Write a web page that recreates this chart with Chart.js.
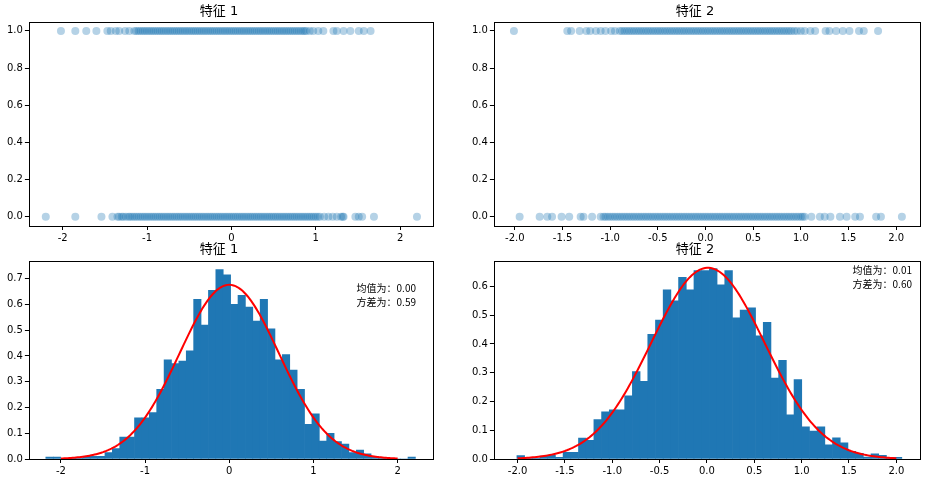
<!DOCTYPE html>
<html><head><meta charset="utf-8">
<script src="https://cdn.jsdelivr.net/npm/chart.js@4/dist/chart.umd.min.js"></script>
<style>
body{margin:0;background:#fff;width:931px;height:484px;position:relative;overflow:hidden}
.c{position:absolute}
</style></head><body>
<div class="c" style="left:0;top:0;width:460px;height:246px"><canvas id="c1"></canvas></div>
<div class="c" style="left:470px;top:0;width:461px;height:246px"><canvas id="c2"></canvas></div>
<div class="c" style="left:0;top:240px;width:460px;height:244px"><canvas id="c3"></canvas></div>
<div class="c" style="left:470px;top:240px;width:461px;height:244px"><canvas id="c4"></canvas></div>
<script>
const titles = ["特征 1", "特征 2"];
// tick values
const xTicks1 = [-2,-1,0,1,2];
const xTicks2 = [-2.0,-1.5,-1.0,-0.5,0.0,0.5,1.0,1.5,2.0];
const yTicksTop = [0.0,0.2,0.4,0.6,0.8,1.0];
const yTicksHist1 = [0.0,0.1,0.2,0.3,0.4,0.5,0.6,0.7];
const yTicksHist2 = [0.0,0.1,0.2,0.3,0.4,0.5,0.6];
// scatter values (feature value) for label 1 and label 0
const f1Label1 = [-2.02,-1.85,-1.72,-1.60,-1.47,-1.43,-1.37,-1.33,-1.26,-1.21,-1.15,-1.125,-1.1,-1.075,-1.05,-1.025,-1.0,-0.975,-0.95,-0.925,-0.9,-0.875,-0.85,-0.825,-0.8,-0.775,-0.75,-0.725,-0.7,-0.675,-0.65,-0.625,-0.6,-0.575,-0.55,-0.525,-0.5,-0.475,-0.45,-0.425,-0.4,-0.375,-0.35,-0.325,-0.3,-0.275,-0.25,-0.225,-0.2,-0.175,-0.15,-0.125,-0.1,-0.075,-0.05,-0.025,0,0.025,0.05,0.075,0.1,0.125,0.15,0.175,0.2,0.225,0.25,0.275,0.3,0.325,0.35,0.375,0.4,0.425,0.45,0.475,0.5,0.525,0.55,0.575,0.6,0.625,0.65,0.675,0.7,0.725,0.75,0.775,0.8,0.825,0.85,0.87,0.89,0.93,0.97,1.03,1.09,1.21,1.25,1.33,1.41,1.51,1.57,1.65];
const f1Label0 = [-2.2,-1.85,-1.54,-1.41,-1.35,-1.33,-1.3,-1.28,-1.25,-1.22,-1.2,-1.175,-1.15,-1.125,-1.1,-1.075,-1.05,-1.025,-1.0,-0.975,-0.95,-0.925,-0.9,-0.875,-0.85,-0.825,-0.8,-0.775,-0.75,-0.725,-0.7,-0.675,-0.65,-0.625,-0.6,-0.575,-0.55,-0.525,-0.5,-0.475,-0.45,-0.425,-0.4,-0.375,-0.35,-0.325,-0.3,-0.275,-0.25,-0.225,-0.2,-0.175,-0.15,-0.125,-0.1,-0.075,-0.05,-0.025,0,0.025,0.05,0.075,0.1,0.125,0.15,0.175,0.2,0.225,0.25,0.275,0.3,0.325,0.35,0.375,0.4,0.425,0.45,0.475,0.5,0.525,0.55,0.575,0.6,0.625,0.65,0.675,0.7,0.725,0.75,0.775,0.8,0.825,0.85,0.875,0.9,0.925,0.95,0.975,1.0,1.025,1.05,1.1,1.15,1.2,1.25,1.3,1.32,1.33,1.47,1.51,1.55,1.69,2.2];
const f2Label1 = [-2.01,-1.45,-1.41,-1.32,-1.25,-1.21,-1.15,-1.10,-1.05,-0.99,-0.95,-0.9,-0.875,-0.85,-0.825,-0.8,-0.775,-0.75,-0.725,-0.7,-0.675,-0.65,-0.625,-0.6,-0.575,-0.55,-0.525,-0.5,-0.475,-0.45,-0.425,-0.4,-0.375,-0.35,-0.325,-0.3,-0.275,-0.25,-0.225,-0.2,-0.175,-0.15,-0.125,-0.1,-0.075,-0.05,-0.025,0,0.025,0.05,0.075,0.1,0.125,0.15,0.175,0.2,0.225,0.25,0.275,0.3,0.325,0.35,0.375,0.4,0.425,0.45,0.475,0.5,0.525,0.55,0.575,0.6,0.625,0.65,0.675,0.7,0.725,0.75,0.775,0.8,0.825,0.85,0.875,0.9,0.93,0.96,1.0,1.04,1.1,1.15,1.26,1.3,1.37,1.44,1.51,1.61,1.66,1.81];
const f2Label0 = [-1.95,-1.74,-1.66,-1.61,-1.51,-1.43,-1.31,-1.28,-1.19,-1.10,-1.07,-1.05,-1.025,-1.0,-0.975,-0.95,-0.925,-0.9,-0.875,-0.85,-0.825,-0.8,-0.775,-0.75,-0.725,-0.7,-0.675,-0.65,-0.625,-0.6,-0.575,-0.55,-0.525,-0.5,-0.475,-0.45,-0.425,-0.4,-0.375,-0.35,-0.325,-0.3,-0.275,-0.25,-0.225,-0.2,-0.175,-0.15,-0.125,-0.1,-0.075,-0.05,-0.025,0,0.025,0.05,0.075,0.1,0.125,0.15,0.175,0.2,0.225,0.25,0.275,0.3,0.325,0.35,0.375,0.4,0.425,0.45,0.475,0.5,0.525,0.55,0.575,0.6,0.625,0.65,0.675,0.7,0.725,0.75,0.775,0.8,0.825,0.85,0.875,0.9,0.925,0.95,0.975,1.0,1.02,1.04,1.11,1.2,1.25,1.31,1.41,1.48,1.57,1.62,1.79,1.84,2.06];
// histogram: 50 bins
const h1Start = -2.179, h1Width = 0.0878;
const h1Heights = [0.007,0.007,0,0.003,0.003,0.01,0.01,0.01,0.025,0.04,0.085,0.085,0.16,0.16,0.18,0.27,0.385,0.37,0.38,0.42,0.62,0.52,0.655,0.735,0.715,0.6,0.635,0.59,0.535,0.62,0.505,0.385,0.405,0.345,0.27,0.135,0.175,0.07,0.1,0.068,0.058,0.025,0.035,0.02,0.01,0.004,0,0,0,0.007];
const h2Start = -2.007, h2Width = 0.0813;
const h2Heights = [0.012,0.003,0.003,0.01,0.014,0.006,0.023,0.023,0.073,0.065,0.137,0.164,0.171,0.171,0.22,0.304,0.27,0.434,0.483,0.588,0.55,0.632,0.588,0.655,0.655,0.662,0.606,0.655,0.491,0.518,0.526,0.428,0.475,0.281,0.343,0.154,0.276,0.112,0.097,0.112,0.049,0.074,0.056,0.027,0.02,0.007,0.018,0.013,0.006,0.006];
const mean1 = 0.00, std1 = 0.59, mean2 = 0.01, std2 = 0.60;
const notes1 = ["均值为：0.00","方差为：0.59"], notes2 = ["均值为：0.01","方差为：0.60"];

const FONT = "'DejaVu Sans','Noto Sans CJK SC',sans-serif";
Chart.defaults.font.family = FONT;
Chart.defaults.color = '#000';
Chart.defaults.animation = false;

const frame = {id:'frame', afterDraw(c){const a=c.chartArea,x=c.ctx;x.save();x.strokeStyle='#000';x.lineWidth=1;x.strokeRect(Math.round(a.left)+0.5,Math.round(a.top)+0.5,Math.round(a.right-a.left),Math.round(a.bottom-a.top));x.restore();}};
function notesPlugin(lines, dx, dy){return {id:'notes', afterDraw(c){const a=c.chartArea,x=c.ctx;x.save();x.font="10px 'Noto Sans CJK SC','DejaVu Sans',sans-serif";x.fillStyle='#000';x.textAlign='right';x.textBaseline='middle';lines.forEach((l,i)=>x.fillText(l,a.right-dx,a.top+dy+i*14));x.restore();}};}

function axis(min,max,xt,dec,ymin,ymax,yt){
  return {
    x:{type:'linear',min,max,offset:false,grid:{display:true,offset:false,drawOnChartArea:false,tickLength:4,color:'#000'},border:{display:false},
       ticks:{font:{size:10},padding:2,maxRotation:0,autoSkip:false,callback:v=>Number(v).toFixed(dec)},afterBuildTicks:ax=>{ax.ticks=xt.map(v=>({value:v}));}},
    y:{type:'linear',min:ymin,max:ymax,grid:{display:true,offset:false,drawOnChartArea:false,tickLength:4,color:'#000'},border:{display:false},
       ticks:{font:{size:10},padding:2,autoSkip:false,callback:v=>Number(v).toFixed(1)},afterBuildTicks:ax=>{ax.ticks=yt.map(v=>({value:v}));}}
  };
}
function scatter(id,title,l1,l0,xmin,xmax,xt,dec,pad){
  const pts=[...l1.map(v=>({x:v,y:1})),...l0.map(v=>({x:v,y:0}))];
  new Chart(document.getElementById(id),{type:'scatter',
    data:{datasets:[{data:pts,pointRadius:4,pointBorderWidth:0,backgroundColor:'rgba(31,119,180,0.33)',borderColor:'rgba(31,119,180,0.33)'}]},
    options:{responsive:true,maintainAspectRatio:false,layout:{padding:pad},
      plugins:{legend:{display:false},tooltip:{enabled:false},title:{display:true,text:title,font:{size:13,weight:'normal'},padding:{top:4,bottom:2}}},
      scales:axis(xmin,xmax,xt,dec,-0.05,1.05,yTicksTop)},plugins:[frame]});
}
function hist(id,title,start,w,h,mu,sd,xmin,xmax,xt,dec,ymax,yt,notes,pad,ndy){
  const bars=h.map((v,i)=>({x:start+w*(i+0.5),y:v}));
  const curve=[];for(let i=0;i<=200;i++){const x=-2+i*0.02;curve.push({x,y:Math.exp(-0.5*((x-mu)/sd)**2)/(sd*Math.sqrt(2*Math.PI))});}
  new Chart(document.getElementById(id),{
    data:{datasets:[
      {type:'line',data:curve,borderColor:'#ff0000',borderWidth:2,pointRadius:0,tension:0,order:0},
      {type:'bar',data:bars,backgroundColor:'#1f77b4',barPercentage:1.0,categoryPercentage:1.0,borderWidth:0,grouped:false,order:1}]},
    options:{responsive:true,maintainAspectRatio:false,layout:{padding:pad},
      plugins:{legend:{display:false},tooltip:{enabled:false},title:{display:true,text:title,font:{size:13,weight:'normal'},padding:{top:2,bottom:3}}},
      scales:axis(xmin,xmax,xt,dec,0,ymax,yt)},plugins:[frame,notesPlugin(notes,...ndy)]});
}
scatter('c1',titles[0],f1Label1,f1Label0,-2.4,2.39,xTicks1,0,{left:5,right:27,top:0,bottom:0});
scatter('c2',titles[1],f2Label1,f2Label0,-2.22,2.25,xTicks2,1,{left:0,right:11,top:0,bottom:0});
hist('c3',titles[0],h1Start,h1Width,h1Heights,mean1,std1,-2.38,2.42,xTicks1,0,0.77,yTicksHist1,notes1,{left:5,right:27,top:0,bottom:5},[17,28]);
hist('c4',titles[1],h2Start,h2Width,h2Heights,mean2,std2,-2.25,2.25,xTicks2,1,0.69,yTicksHist2,notes2,{left:0,right:11,top:0,bottom:5},[8,10]);
</script></body></html>
